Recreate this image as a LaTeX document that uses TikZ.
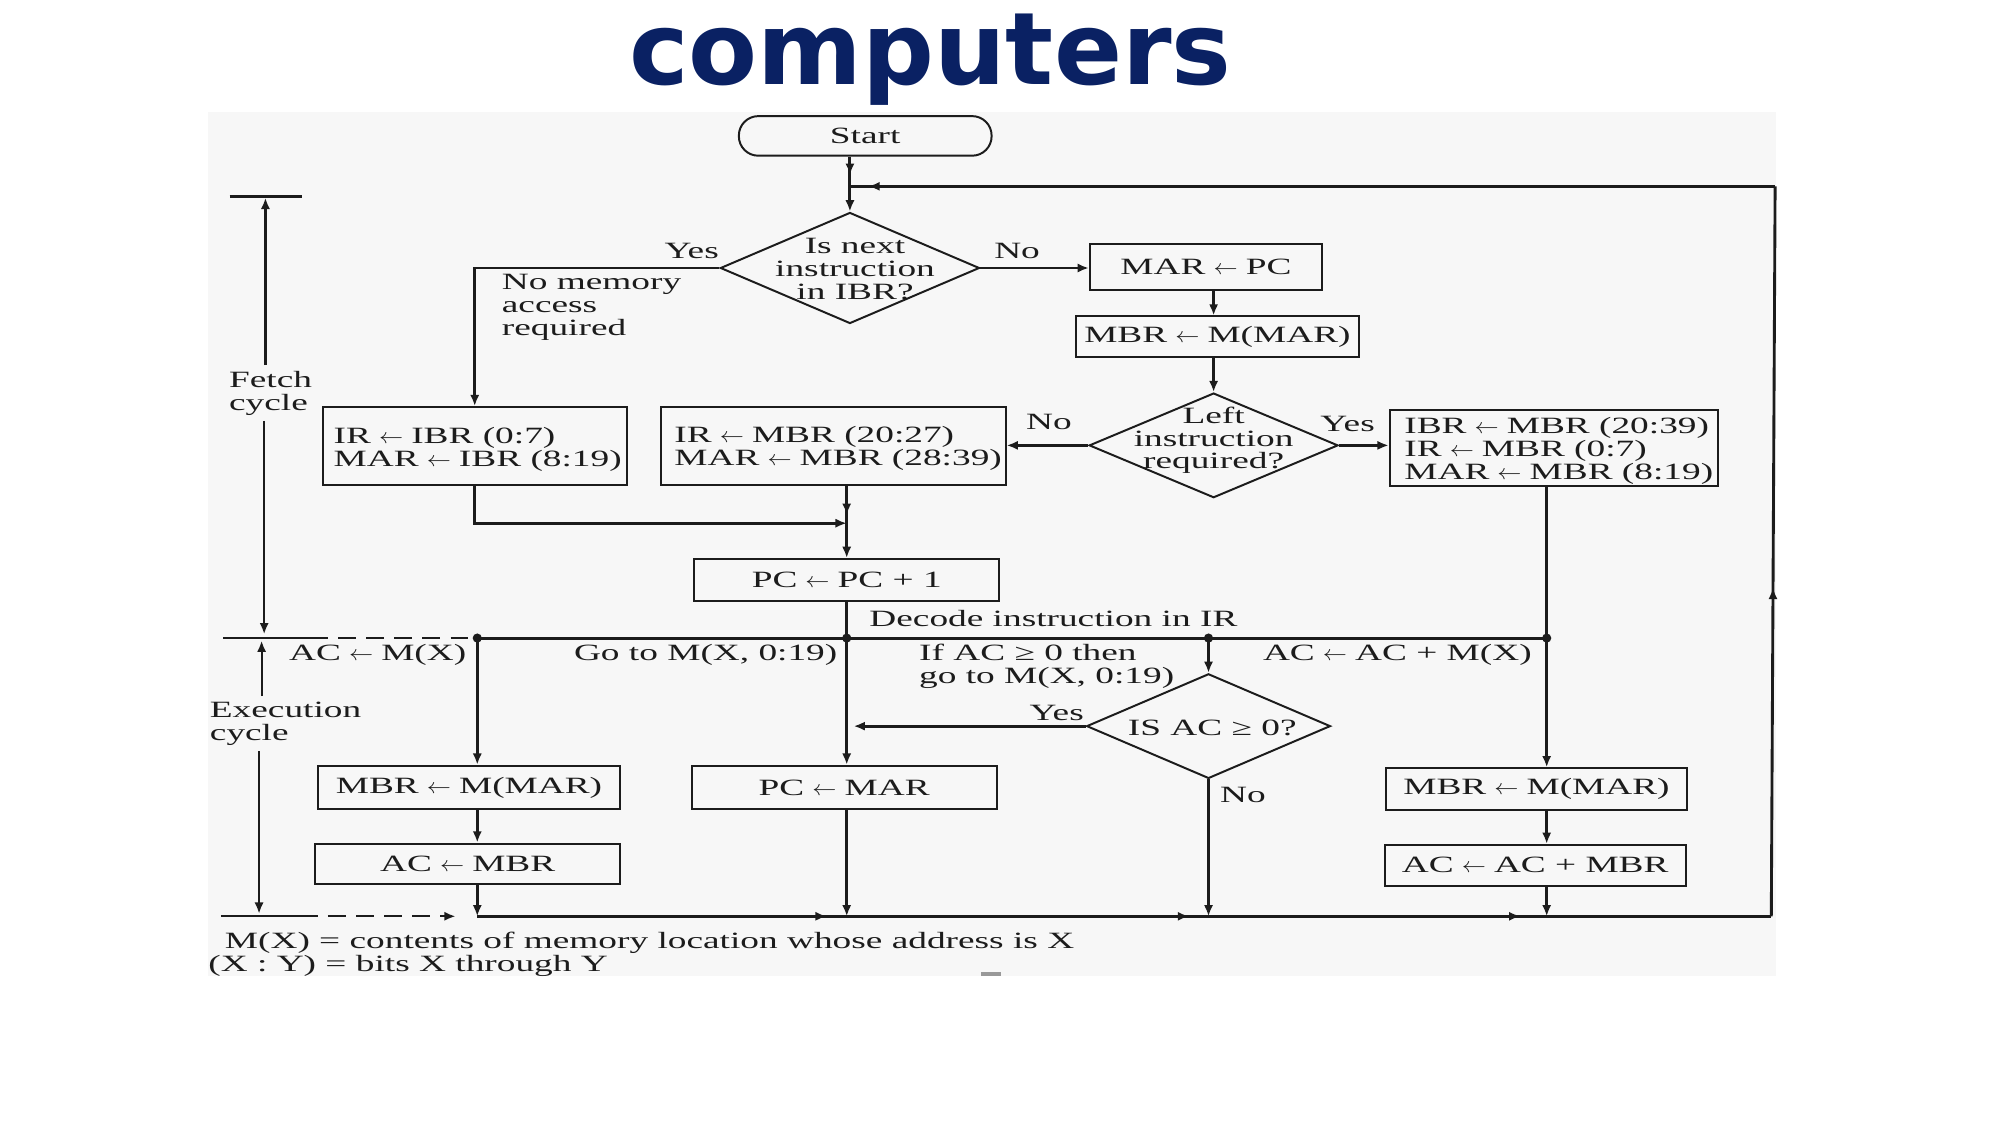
\documentclass[tikz,border=0pt]{standalone}
\usepackage{fontspec}
\usepackage{graphicx}
\setmainfont{Liberation Serif}
\newfontfamily\fc{Liberation Serif}[FakeStretch=1.6]
\newfontfamily\titlefont{DejaVu Sans}
\usetikzlibrary{arrows.meta,decorations.markings,shapes.geometric,calc}
\definecolor{ink}{RGB}{28,28,28}
\definecolor{navy}{RGB}{10,33,99}
\newcommand\la{\hspace{4.5pt}\scalebox{1.12}[1]{$\leftarrow$}\hspace{4.5pt}}
\begin{document}
\begin{tikzpicture}[x=0.025cm,y=-0.025cm,
  >={Latex[length=2.2mm,width=1.8mm]},
  ttl/.style={inner sep=0pt,font=\titlefont\bfseries\fontsize{56}{60}\selectfont,text=navy},
  box/.style={draw=ink,line width=1.1pt,inner sep=0pt,font=\fc\fontsize{13}{12.8}\selectfont,text=ink},
  dia/.style={draw=ink,line width=1.1pt,shape=diamond,inner sep=0pt},
  lbl/.style={inner sep=0pt,font=\fc\fontsize{13}{12.8}\selectfont,text=ink},
  conn/.style={draw=ink,line width=1.6pt},
  arr/.style={conn,->},
  thinln/.style={draw=ink,line width=1.2pt},
  dsh/.style={thinln,dash pattern=on 0.35cm off 0.2cm},
  midarr/.style={postaction={decorate,decoration={markings,mark=at position #1 with {\arrow{>}}}}},
]
\useasboundingbox (0,0) rectangle (1568,882);
\fill[black!3] (163,88) rectangle (1392,765);

\node[ttl,anchor=base] (title) at (729,66) {computers};

% boxes
\node[box,rounded corners=0.38cm,minimum width=4.95cm,minimum height=0.775cm] (start) at (678,106.5) {Start};
\node[box,minimum width=4.55cm,minimum height=0.9cm] (marpc) at (945,209) {MAR\la PC};
\node[box,minimum width=5.55cm,minimum height=0.8cm] (mbr1) at (954,264) {MBR\la M(MAR)};
\node[box,minimum width=5.95cm,minimum height=1.525cm] (box1) at (372,349.5) {};
\node[box,minimum width=6.75cm,minimum height=1.525cm] (box2) at (653,349.5) {};
\node[box,minimum width=6.425cm,minimum height=1.5cm] (box3) at (1217.5,351) {};
\node[box,minimum width=5.975cm,minimum height=0.825cm] (pc1) at (663.5,454.5) {PC\la PC + 1};
\node[box,minimum width=5.925cm,minimum height=0.85cm] (mbr2) at (367.5,617) {MBR\la M(MAR)};
\node[box,minimum width=5.975cm,minimum height=0.8cm] (acmbr) at (366.5,677) {AC\la MBR};
\node[box,minimum width=5.975cm,minimum height=0.85cm] (pcmar) at (661.5,617) {PC\la MAR};
\node[box,minimum width=5.9cm,minimum height=0.825cm] (mbr3) at (1204,618.5) {MBR\la M(MAR)};
\node[box,minimum width=5.9cm,minimum height=0.8cm] (acadd) at (1203,678) {AC\la AC + MBR};

\node[lbl,anchor=west,align=left] (box1t) at ($(box1.west)+(9,3)$) {IR\la IBR (0:7)\\MAR\la IBR (8:19)};
\node[lbl,anchor=west,align=left] (box2t) at ($(box2.west)+(11,2)$) {IR\la MBR (20:27)\\MAR\la MBR (28:39)};
\node[lbl,anchor=west,align=left] (box3t) at ($(box3.west)+(12,2)$) {IBR\la MBR (20:39)\\IR\la MBR (0:7)\\MAR\la MBR (8:19)};

% diamonds
\node[dia,minimum width=5.075cm,minimum height=2.175cm] (d1) at (666,210) {};
\node[lbl,align=center] (d1t) at (670,211) {Is next\\instruction\\in IBR?};
\node[dia,minimum width=4.875cm,minimum height=2.05cm] (d2) at (951,349) {};
\node[lbl,align=center] (d2t) at (951,345) {Left\\instruction\\required?};
\node[dia,minimum width=4.775cm,minimum height=2.05cm] (d3) at (947,569) {};
\node[lbl] (d3t) at (950,570) {IS AC ≥ 0?};

% coordinates
\coordinate (J) at (666,146);
\coordinate (tR) at (1391,146);
\coordinate (bR) at (1388,718);
\coordinate (m1) at (663.5,410);
\coordinate (j1) at (374,500);
\coordinate (j2) at (663.5,500);
\coordinate (j3) at (947,500);
\coordinate (j4) at (1212,500);
\coordinate (y1) at (669,569);
\coordinate (b0) at (357,718);
\coordinate (b1) at (374,718);
\coordinate (b2) at (663.5,718);
\coordinate (b3) at (947,718);
\coordinate (b4) at (1212,718);

% connectors
\draw[arr,midarr=0.33] (start.south -| d1.north) -- (d1.north);
\draw[conn,midarr=0.45] (bR) -- (tR);
\draw[conn,midarr=0.98] (tR) -- (J);
\draw[arr] (d1.west) -| (box1.north);
\draw[arr] (d1.east) -- (d1.east -| marpc.west);
\draw[arr] (d2.north |- marpc.south) -- (d2.north |- mbr1.north);
\draw[arr] (d2.north |- mbr1.south) -- (d2.north);
\draw[arr] (d2.west) -- (d2.west -| box2.east);
\draw[arr] (d2.east) -- (d2.east -| box3.west);
\draw[arr,midarr=0.4] (box2.south -| pc1.north) -- (pc1.north);
\draw[arr] (box1.south) |- (m1);
\draw[conn] (pc1.south) -- (j2);
\draw[arr] (box3.south -| j4) -- (j4 |- mbr3.north);
\draw[conn] (j1) -- (j4);
\draw[thinln] (175,500) -- (243,500);
\draw[dsh] (243,500) -- (j1);
\draw[arr] (j1) -- (j1 |- mbr2.north);
\draw[arr] (j2) -- (j2 |- pcmar.north);
\draw[arr] (j3) -- (d3.north);
\draw[arr] (d3.west) -- (y1);
\draw[arr] (d3.south) -- (b3);
\draw[arr] (mbr2.south -| j1) -- (acmbr.north -| j1);
\draw[arr] (acmbr.south -| j1) -- (b1);
\draw[arr] (pcmar.south -| j2) -- (b2);
\draw[arr] (mbr3.south -| j4) -- (acadd.north -| j4);
\draw[arr] (acadd.south -| j4) -- (b4);
\draw[conn,postaction={decorate,decoration={markings,
   mark=at position 0.27 with {\arrow{>}},
   mark=at position 0.55 with {\arrow{>}},
   mark=at position 0.806 with {\arrow{>}}}}] (b1) -- (bR);
\draw[thinln] (173,718) -- (235,718);
\draw[dsh,->] (235,718) -- (b0);
\foreach \j in {j1,j2,j3,j4} \fill[ink] (\j) circle (0.9mm);

% cycle annotations
\draw[thinln] (180,154) -- (237,154);
\node[lbl,align=left,anchor=west,inner sep=3pt] (fl) at (175,308) {Fetch\\cycle};
\coordinate (ft) at (208,155);
\coordinate (fb) at (207,497);
\draw[thinln,->] (fl.north -| ft) -- (ft);
\draw[thinln,->] (fl.south -| fb) -- (fb);
\node[lbl,align=left,anchor=west,inner sep=3pt] (el) at (160,567) {Execution\\cycle};
\coordinate (et) at (205,502);
\coordinate (eb) at (203,716);
\draw[thinln,->] (el.north -| et) -- (et);
\draw[thinln,->] (el.south -| eb) -- (eb);

% labels
\node[lbl] (yes1) at (542,197) {Yes};
\node[lbl] (no1) at (797,197) {No};
\node[lbl,anchor=west,align=left] (nomem) at (393,241) {No memory\\access\\required};
\node[lbl] (no2) at (822,331) {No};
\node[lbl] (yes2) at (1056,332) {Yes};
\node[lbl,anchor=west] (dec) at (681,485) {Decode instruction in IR};
\node[lbl] (l1) at (296,513) {AC\la M(X)};
\node[lbl] (l2) at (553,513) {Go to M(X, 0:19)};
\node[lbl,anchor=west,align=left] (l3) at (720,522) {If AC ≥ 0 then\\go to M(X, 0:19)};
\node[lbl] (l4) at (1095,513) {AC\la AC + M(X)};
\node[lbl] (yes3) at (828,559) {Yes};
\node[lbl] (no3) at (974,623) {No};
\node[lbl,anchor=west] (f1) at (176,739) {M(X) = contents of memory location whose address is X};
\node[lbl,anchor=west] (f2) at (163,757) {(X : Y) = bits X through Y};
\fill[black!40] (769,762) rectangle (784,765);
\end{tikzpicture}
\end{document}
